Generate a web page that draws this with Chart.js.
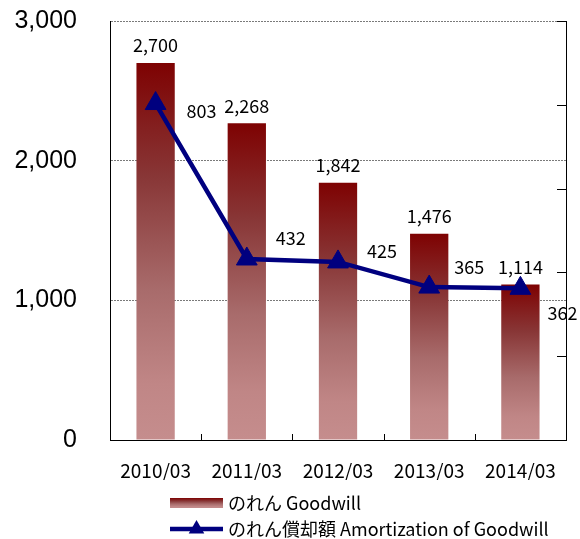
<!DOCTYPE html>
<html>
<head>
<meta charset="utf-8">
<script src="https://cdn.jsdelivr.net/npm/chart.js@4/dist/chart.umd.min.js"></script>
<style>
  html, body { margin: 0; padding: 0; background: #fff; }
  #wrap { width: 580px; height: 539px; position: relative; }
</style>
</head>
<body>
<div id="wrap"><canvas id="chart_goodwill"></canvas></div>
<script>
// data
var categories = ['2010/03', '2011/03', '2012/03', '2013/03', '2014/03'];
var goodwill = [2700, 2268, 1842, 1476, 1114];
var amortization = [803, 432, 425, 365, 362];
var leftTicks = [0, 1000, 2000, 3000];
var seriesNames = ['のれん Goodwill', 'のれん償却額 Amortization of Goodwill'];

// where the amortization labels sit relative to their point (style only)
var lineLabelOffsets = [[46, 8], [44, -21], [44, -11], [40, -20], [42, 25]];

var NAVY = '#00007f';
var JP = '"Noto Sans CJK JP", "Noto Sans", sans-serif';

function fmt(v) { return v.toLocaleString('en-US'); }

function barGradient(c, top, bottom) {
    var g = c.createLinearGradient(0, top, 0, bottom);
    g.addColorStop(0, '#7e0202');
    g.addColorStop(0.3, '#883636');
    g.addColorStop(0.6, '#a86b6b');
    g.addColorStop(0.85, '#c08686');
    g.addColorStop(1, '#c58d8d');
    return g;
}

var extras = {
    id: 'extras',
    afterDraw: function (chart) {
        var c = chart.ctx, area = chart.chartArea;
        var x = chart.scales.x, y2 = chart.scales.y2;
        c.save();
        // inward tick marks on the category axis
        c.strokeStyle = '#000';
        c.lineWidth = 1;
        var half = (x.getPixelForValue(1) - x.getPixelForValue(0)) / 2;
        for (var i = 0; i < categories.length - 1; i++) {
            var px = Math.round(x.getPixelForValue(i) + half) + 0.5;
            c.beginPath(); c.moveTo(px, area.bottom); c.lineTo(px, area.bottom - 6); c.stroke();
        }
        // inward tick marks on the secondary axis
        y2.ticks.forEach(function (t) {
            var py = Math.round(y2.getPixelForValue(t.value)) + 0.5;
            c.beginPath(); c.moveTo(area.right, py); c.lineTo(area.right - 9, py); c.stroke();
        });

        // value labels
        c.fillStyle = '#000';
        c.font = '18px ' + JP;
        c.textAlign = 'center';
        c.textBaseline = 'middle';
        chart.getDatasetMeta(0).data.forEach(function (bar, i) {
            c.fillText(fmt(goodwill[i]), bar.x, bar.y - 17.5);
        });
        chart.getDatasetMeta(1).data.forEach(function (pt, i) {
            var o = lineLabelOffsets[i];
            c.fillText(fmt(amortization[i]), pt.x + o[0], pt.y + o[1]);
        });

        // legend
        var lx = 170, lw = 53;
        c.fillStyle = barGradient(c, 498, 508);
        c.fillRect(lx, 498, lw, 10);
        c.strokeStyle = NAVY;
        c.lineWidth = 4.5;
        c.beginPath(); c.moveTo(lx, 529); c.lineTo(lx + lw, 529); c.stroke();
        c.fillStyle = NAVY;
        var tx = lx + lw / 2, r = 9;
        c.beginPath();
        c.moveTo(tx, 529 - r);
        c.lineTo(tx + r * 0.866, 529 + r / 2);
        c.lineTo(tx - r * 0.866, 529 + r / 2);
        c.closePath(); c.fill();
        c.fillStyle = '#000';
        c.font = '18px ' + JP;
        c.textAlign = 'left';
        c.fillText(seriesNames[0], 228, 503);
        c.fillText(seriesNames[1], 228, 529);
        c.restore();
    }
};

var chart_goodwill = new Chart(document.getElementById('chart_goodwill'), {
    type: 'bar',
    data: {
        labels: categories,
        datasets: [
            {
                label: seriesNames[0],
                data: goodwill,
                yAxisID: 'y',
                order: 2,
                barPercentage: 0.42,
                categoryPercentage: 1,
                backgroundColor: function (ctx) {
                    var chart = ctx.chart;
                    if (!chart.chartArea || ctx.type !== 'data') return '#a86b6b';
                    var sy = chart.scales.y;
                    return barGradient(chart.ctx, sy.getPixelForValue(ctx.raw), sy.getPixelForValue(0));
                }
            },
            {
                type: 'line',
                label: seriesNames[1],
                data: amortization,
                yAxisID: 'y2',
                order: 1,
                borderColor: NAVY,
                backgroundColor: NAVY,
                borderWidth: 4.5,
                pointStyle: 'triangle',
                pointRadius: 12,
                pointBorderWidth: 1,
                tension: 0
            }
        ]
    },
    options: {
        animation: false,
        responsive: true,
        maintainAspectRatio: false,
        layout: { padding: { top: 21, bottom: 59, left: 0, right: 0 } },
        plugins: {
            legend: { display: false },
            tooltip: { enabled: false }
        },
        scales: {
            x: {
                grid: { display: false },
                border: { display: true, color: '#000', width: 1 },
                ticks: {
                    color: '#000',
                    padding: 11,
                    font: { family: JP, size: 19 }
                },
                afterFit: function (s) { s.height = 40; }
            },
            y: {
                position: 'left',
                min: 0,
                max: 3000,
                afterBuildTicks: function (s) { s.ticks = leftTicks.map(function (v) { return { value: v }; }); },
                ticks: {
                    color: '#000',
                    padding: 0,
                    font: { family: '"Liberation Sans", Arial, sans-serif', size: 25 },
                    callback: function (v) { return fmt(v); }
                },
                grid: {
                    drawTicks: true,
                    tickLength: 33,
                    tickColor: 'rgba(0,0,0,0)',
                    lineWidth: 1,
                    color: function (ctx) { return ctx.tick && ctx.tick.value === 0 ? 'rgba(0,0,0,0)' : '#7a7a7a'; }
                },
                border: { display: true, color: '#000', width: 1, dash: [2, 1] },
                afterFit: function (s) { s.width = 110; }
            },
            y2: {
                position: 'right',
                min: 0,
                max: 1000,
                ticks: { display: false, stepSize: 200 },
                grid: { display: false, drawTicks: false },
                border: { display: true, color: '#000', width: 1 },
                afterFit: function (s) { s.width = 14; }
            }
        }
    },
    plugins: [extras]
});
</script>
</body>
</html>
